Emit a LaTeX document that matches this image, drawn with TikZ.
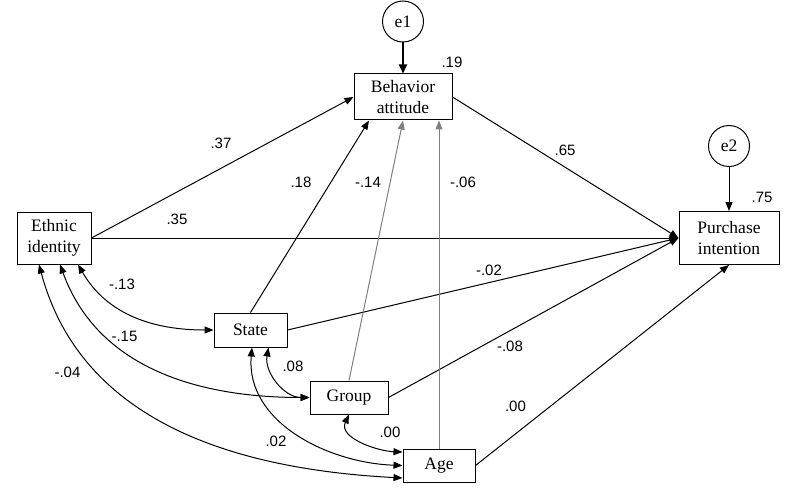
\documentclass[tikz,border=0pt]{standalone}
\usepackage{fontspec}
\setmainfont{Liberation Serif}
\setsansfont{Liberation Sans}
\usetikzlibrary{positioning, arrows.meta}

\tikzset{
  var/.style={draw, line width=1pt, align=center, inner sep=2pt, font=\fontsize{17.5}{21}\selectfont},
  err/.style={draw, circle, line width=1pt, minimum size=41pt, inner sep=0pt, font=\fontsize{17.5}{21}\selectfont},
  coef/.style={font=\sffamily\fontsize{15}{18}\selectfont, inner sep=0pt},
  regr/.style={line width=1pt, -{Triangle[length=9pt,width=7pt]}},
  covar/.style={line width=1pt, {Triangle[length=9pt,width=7pt]}-{Triangle[length=9pt,width=7pt]}},
}

\begin{document}
\begin{tikzpicture}[x=1pt, y=1pt]
    \useasboundingbox (0,0) rectangle (787,491);

    % Draw variables
    \node[var, minimum width=74pt, minimum height=52pt] (ethnic) at (54,253) {Ethnic\\identity};
    \node[var, minimum width=98pt, minimum height=46pt] (behavior) at (403,394) {Behavior\\attitude};
    \node[var, minimum width=100pt, minimum height=53pt] (purchase) at (729,253) {Purchase\\intention};
    \node[var, minimum width=73pt, minimum height=34pt] (state) at (250.5,161) {State};
    \node[var, minimum width=78pt, minimum height=33pt] (group) at (349,93.5) {Group};
    \node[var, minimum width=72pt, minimum height=33pt] (age) at (439,25.5) {Age};

    % Draw error terms
    \node[err, above=31pt of behavior] (e1) {e1};
    \node[err, above=44pt of purchase] (e2) {e2};
    \draw[line width=2pt, -{Triangle[length=9pt,width=8pt]}] (e1) -- (behavior);
    \draw[regr] (e2) -- (purchase);

    % Draw paths
    \draw[regr] (ethnic.east) -- (behavior.west);
    \foreach \v in {ethnic, behavior, state, group} {
      \draw[regr] (\v.east) -- (purchase.west);
    }
    \draw[regr] (state.north) -- ([xshift=-34pt]behavior.south);
    \draw[regr, gray] (group.north) -- (behavior.south);
    \draw[regr, gray] (age.north) -- (age.north |- behavior.south);
    \draw[regr] (age.east) -- (purchase.south);

    % Draw covariances
    \draw[covar] ([xshift=24pt]ethnic.south) to[out=-60, in=180] (state.west);
    \draw[covar] ([xshift=6pt]ethnic.south) to[out=-70, in=180] (group.west);
    \draw[covar] ([xshift=-15pt]ethnic.south) to[out=-75, in=177] ([yshift=-12.5pt]age.west);
    \draw[covar] ([xshift=18pt]state.south) to[out=-100, in=180] (group.west);
    \draw[covar] ([xshift=1.5pt]state.south) to[out=-95, in=178] (age.west);
    \draw[covar] (group.south) to[out=-115, in=178] ([yshift=13.5pt]age.west);

    % Coefficients
    \foreach \n/\x/\y/\t in {1/221/348/.37, 2/177/272/.35, 3/565/341/.65, 4/301/308.5/.18,
      5/368/308.5/-.14, 6/463/308.5/-.06, 7/489/221/-.02, 8/510/145/-.08, 9/515.5/85/.00,
      10/122/207/-.13, 11/124.5/155/-.15, 12/67.5/119/-.04, 13/293/125/.08, 14/276/50/.02,
      15/390/58.5/.00, 16/452/428.5/.19, 17/762/293.5/.75} {
      \node[coef] (c\n) at (\x,\y) {\t};
    }

\end{tikzpicture}
\end{document}
